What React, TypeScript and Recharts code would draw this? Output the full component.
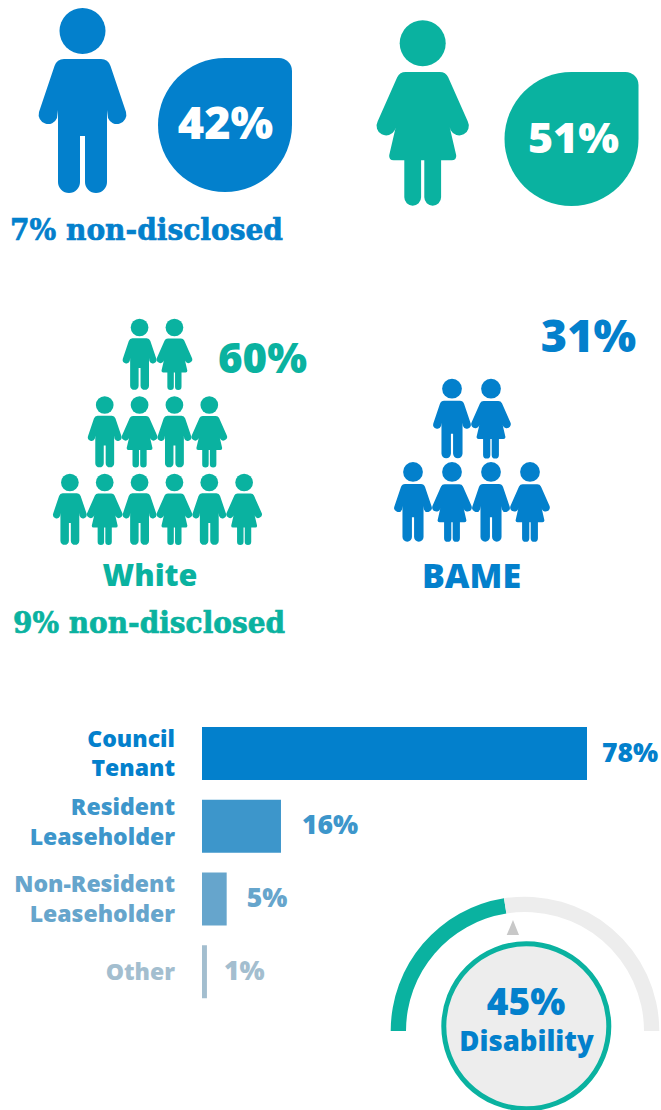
import React from "react";
import {
  Bar,
  BarChart,
  Cell,
  LabelList,
  Pie,
  PieChart,
  Scatter,
  ScatterChart,
  XAxis,
  YAxis
} from "recharts";

const BLUE = "#0380CC";
const TEAL = "#0AB2A0";
const TRACK = "#EDEDED";
const SANS = "'Open Sans', Lato, sans-serif";
const SLAB = "'DejaVu Serif', serif";

// Head centre sits at the origin of both figures
const MAN_PATH =
  "M-18.5 28L18.5 28Q25.5 28 28 35L43.5 81A9.5 9.5 0 0 1 25.5 87L24.5 79L24.5 151A11 11 0 0 1 2.5 151L2.5 105L-2.5 105L-2.5 151A11 11 0 0 1 -24.5 151L-24.5 79L-25.5 87A9.5 9.5 0 0 1 -43.5 81L-28 35Q-25.5 28 -18.5 28Z";
const WOMAN_PATH =
  "M-17 28.7L17 28.7Q23 28.7 25.5 34L45 78A9.5 9.5 0 0 1 28 87L27 84L33.5 112Q34 117 29 117L18.4 117L18.4 154A8.4 8.4 0 0 1 1.6 154L1.6 117L-1.6 117L-1.6 154A8.4 8.4 0 0 1 -18.4 154L-18.4 117L-29 117Q-34 117 -33.5 112L-27 84L-28 87A9.5 9.5 0 0 1 -45 78L-25.5 34Q-23 28.7 -17 28.7Z";

const WHITE_ROWS = [2, 4, 6];
const BAME_ROWS = [2, 4];

const TENURE_NAMES = ["Council Tenant", "Resident Leaseholder", "Non-Resident Leaseholder", "Other"];
const TENURE_VALUES = [78, 16, 5, 1];
const TENURE_COLORS = [BLUE, "#3D96CB", "#66A5CC", "#A3BECF"];
const TENURE_LABEL_GAPS = [15, 21, 20, 17];
const TENURE_NAME_SHIFTS = [0, -4, 0, 0];

const DISABILITY_VALUES = [45, 55];
const DISABILITY_COLORS = [TEAL, TRACK];

const tenureData = TENURE_NAMES.map((name, i) => ({ name, value: TENURE_VALUES[i] }));
const disabilityData = DISABILITY_VALUES.map((value) => ({ value }));

// Rows are centred on slot 0; figures alternate man, woman along each row
function pyramid(rows: number[]) {
  return rows.flatMap((count, row) =>
    Array.from({ length: count }, (_, i) => ({
      slot: i - (count - 1) / 2,
      row,
      female: i % 2 === 1
    }))
  );
}

function Person({ x, y, scale, female, color }: any) {
  return (
    <g transform={`translate(${x} ${y}) scale(${scale})`} fill={color}>
      <circle r={23} />
      <path d={female ? WOMAN_PATH : MAN_PATH} />
    </g>
  );
}

function Pyramid({ rows, color, scale, left, top, width, height, slots, rowDomain }: any) {
  return (
    <div style={{ position: "absolute", left, top }}>
      <ScatterChart width={width} height={height} margin={{ top: 0, right: 0, bottom: 0, left: 0 }}>
        <XAxis type="number" dataKey="slot" domain={slots} hide />
        <YAxis type="number" dataKey="row" domain={rowDomain} reversed hide />
        <Scatter
          data={pyramid(rows)}
          isAnimationActive={false}
          shape={(p: any) => (
            <Person x={p.cx} y={p.cy} scale={scale} female={p.payload.female} color={color} />
          )}
        />
      </ScatterChart>
    </div>
  );
}

function TenureTick({ y, payload, index }: any) {
  const words = String(payload.value).split(" ");
  return (
    <text
      textAnchor="end"
      fontFamily={SANS}
      fontWeight={800}
      fontSize={23}
      fill={TENURE_COLORS[index]}
    >
      {words.map((word, i) => (
        <tspan
          key={word}
          x={175}
          y={y + 8 + TENURE_NAME_SHIFTS[index] + (i - (words.length - 1) / 2) * 29.5}
        >
          {word}
        </tspan>
      ))}
    </text>
  );
}

function TenureLabel({ x, y, width, height, value, index }: any) {
  return (
    <text
      x={x + width + TENURE_LABEL_GAPS[index]}
      y={y + height / 2 + 8}
      fontFamily={SANS}
      fontWeight={800}
      fontSize={26.5}
      fill={TENURE_COLORS[index]}
    >
      {value}%
    </text>
  );
}

function Drop({ x, y, color }: any) {
  return (
    <path
      transform={`translate(${x} ${y})`}
      fill={color}
      d="M0 -67H54A13 13 0 0 1 67 -54V0A67 67 0 1 1 0 -67Z"
    />
  );
}

function Label({ children, size = 32, color = BLUE, family = SANS, anchor = "middle", ...rest }: any) {
  return (
    <text
      fontFamily={family}
      fontWeight={family === SANS ? 800 : 700}
      fontSize={size}
      fill={color}
      textAnchor={anchor}
      {...rest}
    >
      {children}
    </text>
  );
}

export default function App() {
  return (
    <div style={{ position: "absolute", left: 0, top: 0, width: 661, height: 1110, overflow: "hidden", background: "#fff" }}>
      <Pyramid
        rows={WHITE_ROWS}
        color={TEAL}
        scale={0.385}
        left={34.5}
        top={311.5}
        width={244}
        height={248}
        slots={[-3.5, 3.5]}
        rowDomain={[-0.2, 3]}
      />
      <Pyramid
        rows={BAME_ROWS}
        color={BLUE}
        scale={0.43}
        left={374}
        top={372.3}
        width={195}
        height={183.3}
        slots={[-2.5, 2.5]}
        rowDomain={[-0.2, 2]}
      />

      <div style={{ position: "absolute", left: 0, top: 717 }}>
        <BarChart
          width={661}
          height={291}
          layout="vertical"
          data={tenureData}
          margin={{ top: 0, right: 74, bottom: 0, left: 0 }}
        >
          <XAxis type="number" domain={[0, 78]} hide />
          <YAxis
            type="category"
            dataKey="name"
            width={202}
            interval={0}
            axisLine={false}
            tickLine={false}
            tick={TenureTick}
          />
          <Bar dataKey="value" barSize={53} isAnimationActive={false}>
            {tenureData.map((d, i) => (
              <Cell key={d.name} fill={TENURE_COLORS[i]} />
            ))}
            <LabelList dataKey="value" content={TenureLabel} />
          </Bar>
        </BarChart>
      </div>

      <div style={{ position: "absolute", left: 380, top: 880 }}>
        <PieChart width={281} height={230} margin={{ top: 0, right: 0, bottom: 0, left: 0 }}>
          <Pie
            data={disabilityData}
            dataKey="value"
            cx={145}
            cy={151}
            startAngle={180}
            endAngle={0}
            innerRadius={119}
            outerRadius={134.3}
            stroke="none"
            isAnimationActive={false}
          >
            {disabilityData.map((d, i) => (
              <Cell key={d.value} fill={DISABILITY_COLORS[i]} />
            ))}
          </Pie>
        </PieChart>
      </div>

      <svg width={661} height={1110} style={{ position: "absolute", left: 0, top: 0, pointerEvents: "none" }}>
        <Person x={82.5} y={31} scale={1} color={BLUE} />
        <Drop x={225} y={125} color={BLUE} />
        <Label x={225.5} y={138.5} size={45} color="#fff">42%</Label>
        <Label
          x={10}
          y={240}
          size={30}
          family={SLAB}
          anchor="start"
          stroke={BLUE}
          strokeWidth={0.7}
          textLength={273}
          lengthAdjust="spacingAndGlyphs"
        >
          7% non-disclosed
        </Label>

        <Person x={422.7} y={43.3} scale={1} female color={TEAL} />
        <Drop x={571.5} y={139} color={TEAL} />
        <Label x={573.5} y={153} size={43} color="#fff">51%</Label>

        <Label x={262.5} y={373} size={42} color={TEAL}>60%</Label>
        <Label x={588.5} y={352} size={45}>31%</Label>
        <Label x={150} y={586} size={30.5} color={TEAL}>White</Label>
        <Label x={471.5} y={588} size={34}>BAME</Label>
        <Label
          x={13}
          y={633}
          size={30}
          color={TEAL}
          family={SLAB}
          anchor="start"
          stroke={TEAL}
          strokeWidth={0.7}
          textLength={272}
          lengthAdjust="spacingAndGlyphs"
        >
          9% non-disclosed
        </Label>

        <polygon points="506.7,935 519,935 513,920" fill="#C8C8C8" />
        <circle cx={526.3} cy={1026.3} r={82.5} fill={TRACK} stroke={TEAL} strokeWidth={5} />
        <Label x={526} y={1015} size={37}>45%</Label>
        <Label x={526.5} y={1051} size={27.5}>Disability</Label>
      </svg>
    </div>
  );
}
